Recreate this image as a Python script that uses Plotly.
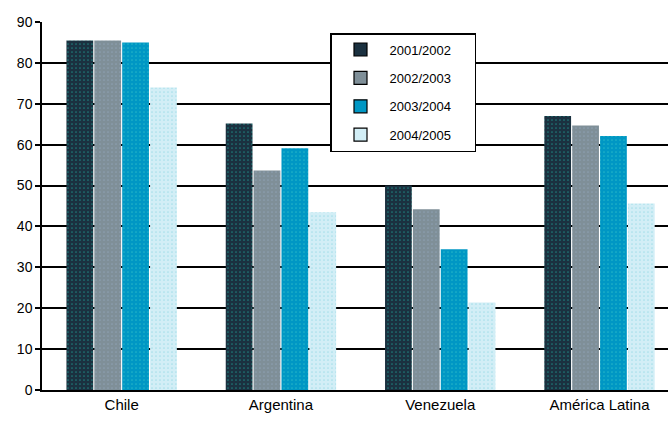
import plotly.graph_objects as go

categories = ["Chile", "Argentina", "Venezuela", "América Latina"]
series_names = ["2001/2002", "2002/2003", "2003/2004", "2004/2005"]
v_2001_2002 = [85.5, 65.2, 50.0, 67.0]
v_2002_2003 = [85.5, 53.7, 44.2, 64.7]
v_2003_2004 = [85.0, 59.1, 34.4, 62.1]
v_2004_2005 = [74.0, 43.5, 21.4, 45.6]
y_ticks = [0, 10, 20, 30, 40, 50, 60, 70, 80, 90]

series_values = [v_2001_2002, v_2002_2003, v_2003_2004, v_2004_2005]
bg_colors = ["#1b3140", "#7f8f98", "#0097c4", "#d2eef6"]
fg_colors = ["#1e7a78", "#8c9fb0", "#22b4c8", "#a8e0ea"]

fig = go.Figure()
for i, (name, vals) in enumerate(zip(series_names, series_values)):
    fig.add_trace(go.Bar(
        x=categories, y=vals, name=name, legendgroup=name, showlegend=False,
        marker=dict(color=bg_colors[i], line=dict(width=0),
                    pattern=dict(shape=".", fgcolor=fg_colors[i], bgcolor=bg_colors[i],
                                 size=4, solidity=0.15, fillmode="replace")),
    ))
# legend entries (square swatches with black outline)
pad = "\u00a0" * 5
for i, name in enumerate(series_names):
    fig.add_trace(go.Scatter(
        x=[None], y=[None], mode="markers", name=name + pad,
        legendgroup=name, showlegend=True,
        marker=dict(symbol="square", size=13, color=bg_colors[i],
                    line=dict(color="black", width=1.2)),
    ))

fig.update_layout(
    width=668, height=429,
    margin=dict(l=42, r=0, t=22, b=39, autoexpand=False),
    paper_bgcolor="white", plot_bgcolor="white",
    barmode="group", bargap=0.3, bargroupgap=0.04,
    font=dict(family="Liberation Sans, Arial, sans-serif", color="black"),
    showlegend=True,
    legend=dict(
        x=(330 - 42) / 626, y=0.97, xanchor="left", yanchor="top",
        bordercolor="black", borderwidth=1.5, bgcolor="white",
        font=dict(size=13, family="Liberation Sans, Arial"),
        traceorder="grouped", tracegroupgap=8.5,
        itemwidth=48,
    ),
    xaxis=dict(
        range=[-0.5, 3.43], showline=True, linecolor="black", linewidth=1.5,
        ticks="", tickfont=dict(size=15, family="Liberation Sans Narrow, Liberation Sans, Arial"),
        showgrid=False, fixedrange=True,
    ),
    yaxis=dict(
        range=[0, 90], tickvals=y_ticks, showline=True, linecolor="black", linewidth=1.5,
        ticks="outside", ticklen=5, tickwidth=1.5, tickcolor="black",
        showgrid=True, gridcolor="black", gridwidth=1.5, zeroline=False,
        tickfont=dict(size=14, family="Liberation Sans Narrow, Liberation Sans, Arial"),
        fixedrange=True,
    ),
)

fig.write_html("out.html", config={"displayModeBar": False},
               post_script="document.body.style.margin='0';document.body.style.overflow='hidden';")
